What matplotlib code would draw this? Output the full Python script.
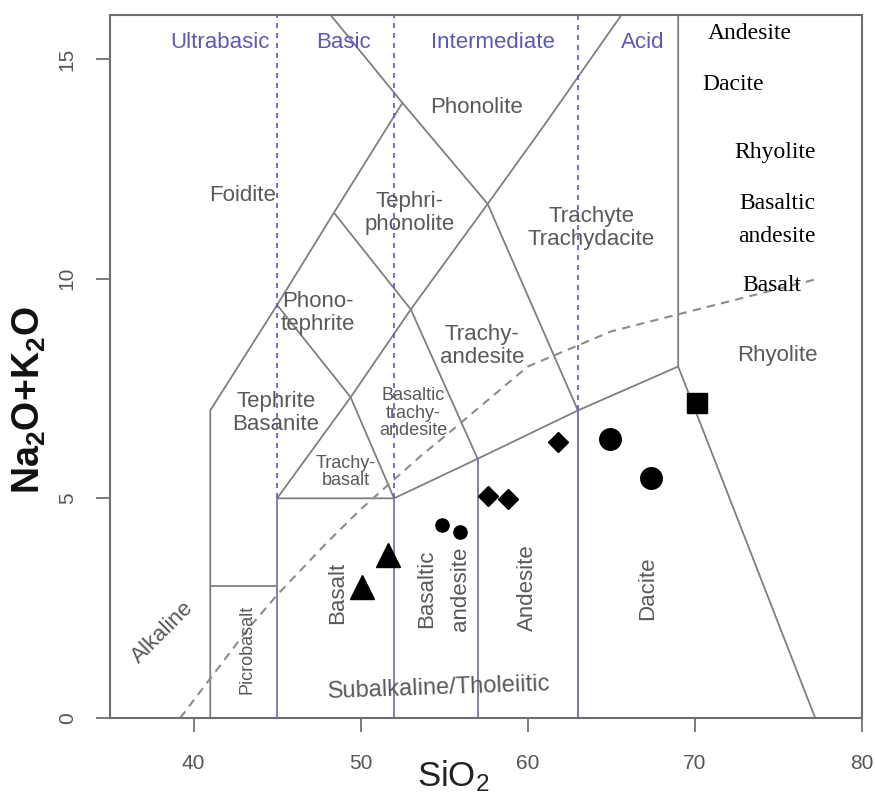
import matplotlib
matplotlib.use("Agg")
import matplotlib.pyplot as plt

plt.rcParams['font.family'] = ['Liberation Sans', 'DejaVu Sans']
plt.rcParams['mathtext.default'] = 'regular'

# ---------------- data ----------------
# TAS field boundaries (SiO2, Na2O+K2O)
line_a_x = [48.2, 52.5, 57.6, 63, 63]
line_a_y = [16, 14, 11.7, 7, 0]
line_b_x = [41, 41, 45, 48.4, 52.5]
line_b_y = [0, 7, 9.4, 11.5, 14]
line_c_x = [45, 49.4, 53, 57.6, 61, 65.6]
line_c_y = [5, 7.3, 9.3, 11.7, 13.5, 16]
line_d_x = [45, 49.4, 52]
line_d_y = [9.4, 7.3, 5]
line_e_x = [48.4, 53, 57]
line_e_y = [11.5, 9.3, 5.9]
line_f_x = [45, 52, 57, 63, 69, 69]
line_f_y = [5, 5, 5.9, 7, 8, 16]
line_g_x = [69, 77.2]
line_g_y = [8, 0]
line_h_x = [41, 45]
line_h_y = [3, 3]

# vertical (bluish) boundaries below class lines
vert_x = [45, 52, 57, 63]
vert_top = [5, 5, 5.9, 7]

# dashed silica-class limits
class_x = [45, 52, 63]
class_bottom = [5, 5, 7]
class_names = ['Ultrabasic', 'Basic', 'Intermediate', 'Acid']
class_pos_x = [41.6, 48.95, 57.9, 66.9]

# Irvine & Baragar alkaline / subalkaline divide
alk_x = [39.2, 40, 43.2, 45, 48, 50, 53.7, 55, 60, 65, 77.4]
alk_y = [0, 0.4, 2, 2.8, 4, 4.75, 6, 6.4, 8, 8.8, 10]

# field names
field_names = ['Phonolite', 'Foidite', 'Tephri-\nphonolite', 'Trachyte\nTrachydacite',
               'Phono-\ntephrite', 'Trachy-\nandesite', 'Rhyolite', 'Tephrite\nBasanite']
field_x = [56.96, 42.96, 52.95, 63.8, 47.45, 57.26, 74.94, 44.93]
field_y = [13.9, 11.9, 11.49, 11.15, 9.22, 8.47, 8.26, 6.94]

small_names = ['Basaltic\ntrachy-\nandesite', 'Trachy-\nbasalt']
small_x = [53.13, 49.12]
small_y = [6.94, 5.6]

vert_names = ['Basalt', 'Basaltic', 'andesite', 'Andesite', 'Dacite']
vert_name_x = [48.64, 53.97, 55.95, 60.0, 67.2]
vert_name_y = [2.85, 2.94, 2.94, 2.96, 2.96]

# samples
tri_x = [50.08, 51.64]
tri_y = [2.98, 3.71]
smallc_x = [54.87, 55.95]
smallc_y = [4.39, 4.23]
dia_x = [57.62, 58.82, 61.81]
dia_y = [5.05, 4.98, 6.28]
bigc_x = [64.92, 67.37]
bigc_y = [6.35, 5.46]
sq_x = [70.13]
sq_y = [7.17]

# legend-like serif labels
leg_names = ['Andesite', 'Dacite', 'Rhyolite', 'Basaltic', 'andesite', 'Basalt']
leg_x = [73.27, 72.28, 74.79, 74.91, 74.91, 74.61]
leg_y = [15.57, 14.41, 12.86, 11.72, 10.95, 9.85]

x_ticks = [40, 50, 60, 70, 80]
y_ticks = [0, 5, 10, 15]

# ---------------- plot ----------------
W, H = 875, 798
fig = plt.figure(figsize=(W / 100, H / 100), dpi=100)
ax = fig.add_axes([110 / W, 1 - 718 / H, 752 / W, 703 / H])
ax.set_xlim(35, 80)
ax.set_ylim(0, 16)

gray = '#7f7f7f'
blue_v = '#7878a8'
blue_d = '#5a5ab4'
lw = 1.3

for xs, ys in [(line_a_x, line_a_y), (line_b_x, line_b_y), (line_c_x, line_c_y),
               (line_d_x, line_d_y), (line_e_x, line_e_y), (line_f_x, line_f_y),
               (line_g_x, line_g_y), (line_h_x, line_h_y)]:
    ax.plot(xs, ys, color=gray, lw=lw, solid_capstyle='butt', zorder=2)

for vx, vt in zip(vert_x, vert_top):
    ax.plot([vx, vx], [0, vt], color=blue_v, lw=lw, zorder=2)

for cx, cb in zip(class_x, class_bottom):
    ax.plot([cx, cx], [cb, 16], color=blue_d, lw=1.2, ls=(0, (3, 3)), zorder=2)

ax.plot(alk_x, alk_y, color='#8c8c8c', lw=1.5, ls=(0, (4, 3)), zorder=2)

tc = '#595959'
for name, cx in zip(class_names, class_pos_x):
    ax.text(cx, 15.38, name, color=blue_d, fontsize=16, ha='center', va='center')
for name, fx, fy in zip(field_names, field_x, field_y):
    ax.text(fx, fy, name, color=tc, fontsize=16, ha='center', va='center', linespacing=1.1)
for name, fx, fy in zip(small_names, small_x, small_y):
    ax.text(fx, fy, name, color=tc, fontsize=13, ha='center', va='center', linespacing=1.05)
for name, fx, fy in zip(vert_names, vert_name_x, vert_name_y):
    ax.text(fx, fy, name, color=tc, fontsize=16, ha='center', va='center', rotation=90)
ax.text(43.2, 1.57, 'Picrobasalt', color=tc, fontsize=13, ha='center', va='center', rotation=90)
ax.text(38.17, 1.94, 'Alkaline', color=tc, fontsize=16, ha='center', va='center', rotation=45)
ax.text(54.7, 0.68, 'Subalkaline/Tholeiitic', color=tc, fontsize=17, ha='center', va='center', rotation=2)

ax.plot(tri_x, tri_y, ls='none', marker='^', ms=17, color='black', zorder=4)
ax.plot(smallc_x, smallc_y, ls='none', marker='o', ms=9.5, color='black', zorder=4)
ax.plot(dia_x, dia_y, ls='none', marker='D', ms=10.5, color='black', zorder=4)
ax.plot(bigc_x, bigc_y, ls='none', marker='o', ms=15.5, color='black', zorder=4)
ax.plot(sq_x, sq_y, ls='none', marker='s', ms=15, color='black', zorder=4)

for name, lx, ly in zip(leg_names, leg_x, leg_y):
    ax.text(lx, ly, name, fontsize=17, ha='center', va='center', color='black',
            family=['Liberation Serif', 'DejaVu Serif'], zorder=5)

ax.set_xticks(x_ticks)
ax.set_yticks(y_ticks)
ax.tick_params(axis='both', direction='out', length=10, width=1.2, color='#666666',
               labelcolor='#555555', labelsize=15)
ax.tick_params(axis='x', pad=16)
ax.tick_params(axis='y', pad=14)
for lab in ax.get_yticklabels():
    lab.set_rotation(90)
    lab.set_va('center')
for sp in ax.spines.values():
    sp.set_color('#6e6e6e')
    sp.set_linewidth(1.5)

fig.text(453 / W, 1 - 786 / H, 'SiO$_2$', fontsize=25, ha='center',
         va='baseline', color='#222222')
fig.text(29 / W, 1 - 400 / H, 'Na$_2$O+K$_2$O', fontsize=27, fontweight='bold',
         ha='center', va='center', rotation=90, color='#111111')

fig.savefig('out.png', dpi=100)
